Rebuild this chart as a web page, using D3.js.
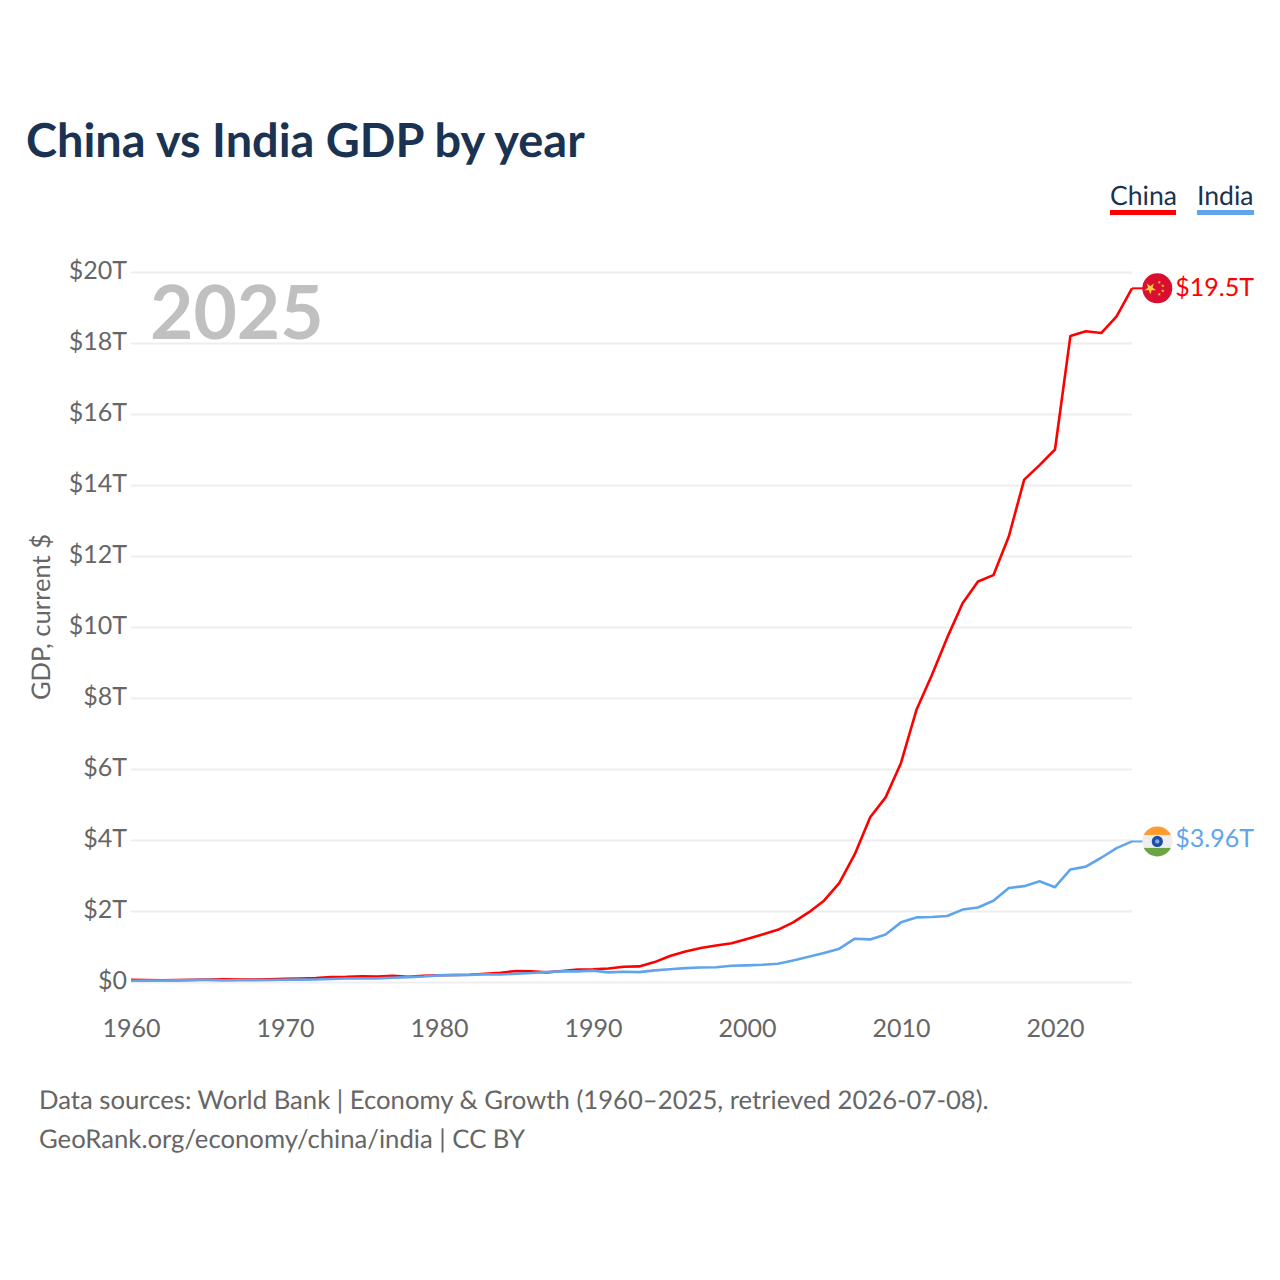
<!DOCTYPE html>
<html>
<head>
<meta charset="utf-8">
<script src="https://d3js.org/d3.v7.min.js"></script>
<style>
    html, body { margin: 0; padding: 0; background: #fff; }
    text { font-family: Lato, sans-serif; text-rendering: geometricPrecision; }
    .gridlines .domain, .x.axis .domain { display: none; }
    .gridlines line { stroke: #eeeeee; stroke-width: 2px; }
    .x.axis line { display: none; }
    .tick text { fill: #666; font-size: 25px; font-family: Lato, sans-serif; }
    .source { fill: #666; font-size: 25.7px; }
</style>
</head>
<body>
<svg id="chart" width="1280" height="1280"></svg>
<script>
const years = d3.range(1960, 2026);
const china = [0.06, 0.055, 0.05, 0.052, 0.059, 0.07, 0.076, 0.072, 0.07, 0.079,
    0.092, 0.1, 0.114, 0.139, 0.144, 0.163, 0.154, 0.175, 0.15, 0.178,
    0.191, 0.196, 0.205, 0.231, 0.26, 0.31, 0.3, 0.27, 0.31, 0.35,
    0.36, 0.38, 0.43, 0.44, 0.56, 0.73, 0.86, 0.96, 1.03, 1.09,
    1.21, 1.34, 1.47, 1.68, 1.96, 2.29, 2.79, 3.6, 4.64, 5.2,
    6.17, 7.66, 8.64, 9.7, 10.67, 11.28, 11.46, 12.55, 14.15, 14.56,
    15.0, 18.2, 18.33, 18.28, 18.75, 19.54];
const india = [0.037, 0.039, 0.042, 0.049, 0.056, 0.06, 0.046, 0.05, 0.053, 0.058,
    0.063, 0.067, 0.071, 0.086, 0.099, 0.098, 0.103, 0.121, 0.138, 0.153,
    0.186, 0.193, 0.2, 0.218, 0.213, 0.233, 0.253, 0.283, 0.299, 0.3,
    0.32, 0.27, 0.288, 0.279, 0.327, 0.36, 0.39, 0.41, 0.416, 0.459,
    0.468, 0.485, 0.515, 0.607, 0.709, 0.82, 0.94, 1.22, 1.2, 1.34,
    1.68, 1.82, 1.83, 1.86, 2.04, 2.1, 2.29, 2.65, 2.7, 2.84,
    2.67, 3.17, 3.25, 3.5, 3.77, 3.96];
const yTicks = [0, 2, 4, 6, 8, 10, 12, 14, 16, 18, 20];
const xTicks = [1960, 1970, 1980, 1990, 2000, 2010, 2020];

const red = "#ff0000";
const blue = "#60a5ec";
const navy = "#1a3352";

const svg = d3.select("#chart");
const x = d3.scaleLinear().domain([1960, 2025]).range([131, 1132]);
const y = d3.scaleLinear().domain([0, 20]).range([982, 272]);

// gridlines + y labels
svg.append("g")
    .attr("class", "gridlines")
    .attr("transform", "translate(131,0)")
    .call(d3.axisLeft(y).tickValues(yTicks).tickSize(-1001).tickFormat(d => "$" + d + (d ? "T" : "")))
    .selectAll("text")
    .attr("x", -4)
    .attr("dy", "0.26em");

svg.append("g")
    .attr("class", "x axis")
    .attr("transform", "translate(0,1016)")
    .call(d3.axisBottom(x).tickValues(xTicks).tickSize(0).tickFormat(d3.format("d")));

svg.append("text")
    .attr("x", 26).attr("y", 157)
    .attr("font-size", 46.9).attr("font-weight", 700).attr("fill", navy)
    .text("China vs India GDP by year");

svg.append("text")
    .attr("x", 150).attr("y", 339)
    .attr("font-size", 74.8).attr("font-weight", 700).attr("fill", "#c0c0c0")
    .text("2025");

svg.append("text")
    .attr("transform", "translate(50,617) rotate(-90)")
    .attr("text-anchor", "middle")
    .attr("font-size", 25.6).attr("fill", "#666")
    .text("GDP, current $");

// legend
const legend = [
    { name: "China", color: red, x0: 1110, x1: 1176 },
    { name: "India", color: blue, x0: 1197, x1: 1254 }
];
legend.forEach(d => {
    svg.append("text").attr("x", d.x0).attr("y", 205)
        .attr("font-size", 26.6).attr("fill", navy).text(d.name);
    svg.append("rect").attr("x", d.x0).attr("y", 210)
        .attr("width", d.x1 - d.x0).attr("height", 5).attr("fill", d.color);
});

// lines
const line = d3.line().x((d, i) => x(years[i])).y(d => y(d));
[[china, red], [india, blue]].forEach(([s, c]) => {
    svg.append("path").datum(s)
        .attr("fill", "none").attr("stroke", c).attr("stroke-width", 2.6)
        .attr("stroke-linejoin", "round")
        .attr("d", line);
});

// end leader lines, flags and value labels
const fx = 1157.3;
const lastC = china[china.length - 1], lastI = india[india.length - 1];
svg.append("line").attr("x1", 1132).attr("x2", fx).attr("y1", y(lastC)).attr("y2", y(lastC))
    .attr("stroke", red).attr("stroke-width", 2);
svg.append("line").attr("x1", 1132).attr("x2", fx).attr("y1", y(lastI)).attr("y2", y(lastI))
    .attr("stroke", blue).attr("stroke-width", 2);

const defs = svg.append("defs");
defs.append("clipPath").attr("id", "clipIn").append("circle").attr("r", 15);

const cn = svg.append("g").attr("transform", `translate(${fx},${y(lastC)})`);
cn.append("circle").attr("r", 15).attr("fill", "#d80f2f");
const star = d3.symbol().type(d3.symbolStar);
cn.append("path").attr("d", star.size(42)()).attr("transform", "translate(-7,0) rotate(36)").attr("fill", "#ffcf3a");
[[2, -6], [5.5, -2.5], [5.5, 2.5], [2, 6]].forEach(p => {
    cn.append("path").attr("d", star.size(4)()).attr("transform", `translate(${p[0]},${p[1]})`).attr("fill", "#ffcf3a");
});

const ind = svg.append("g").attr("transform", `translate(${fx},${y(lastI)})`);
const flag = ind.append("g").attr("clip-path", "url(#clipIn)");
flag.append("rect").attr("x", -16).attr("y", -16).attr("width", 32).attr("height", 32).attr("fill", "#eeeeee");
flag.append("rect").attr("x", -16).attr("y", -16).attr("width", 32).attr("height", 9.5).attr("fill", "#ff9a2e");
flag.append("rect").attr("x", -16).attr("y", 6.5).attr("width", 32).attr("height", 9.5).attr("fill", "#6da544");
ind.append("circle").attr("r", 5.6).attr("fill", "#1b4fa8");
ind.append("circle").attr("r", 2.2).attr("fill", "#8fa8d8");

svg.append("text").attr("x", 1254).attr("y", y(lastC) + 8).attr("text-anchor", "end")
    .attr("font-size", 25).attr("fill", red).text("$19.5T");
svg.append("text").attr("x", 1254).attr("y", y(lastI) + 5.5).attr("text-anchor", "end")
    .attr("font-size", 25).attr("fill", blue).text("$3.96T");

// source note
svg.append("text").attr("class", "source").attr("x", 39).attr("y", 1109)
    .text("Data sources: World Bank | Economy & Growth (1960–2025, retrieved 2026-07-08).");
svg.append("text").attr("class", "source").attr("x", 39).attr("y", 1148)
    .text("GeoRank.org/economy/china/india | CC BY");
</script>
</body>
</html>
